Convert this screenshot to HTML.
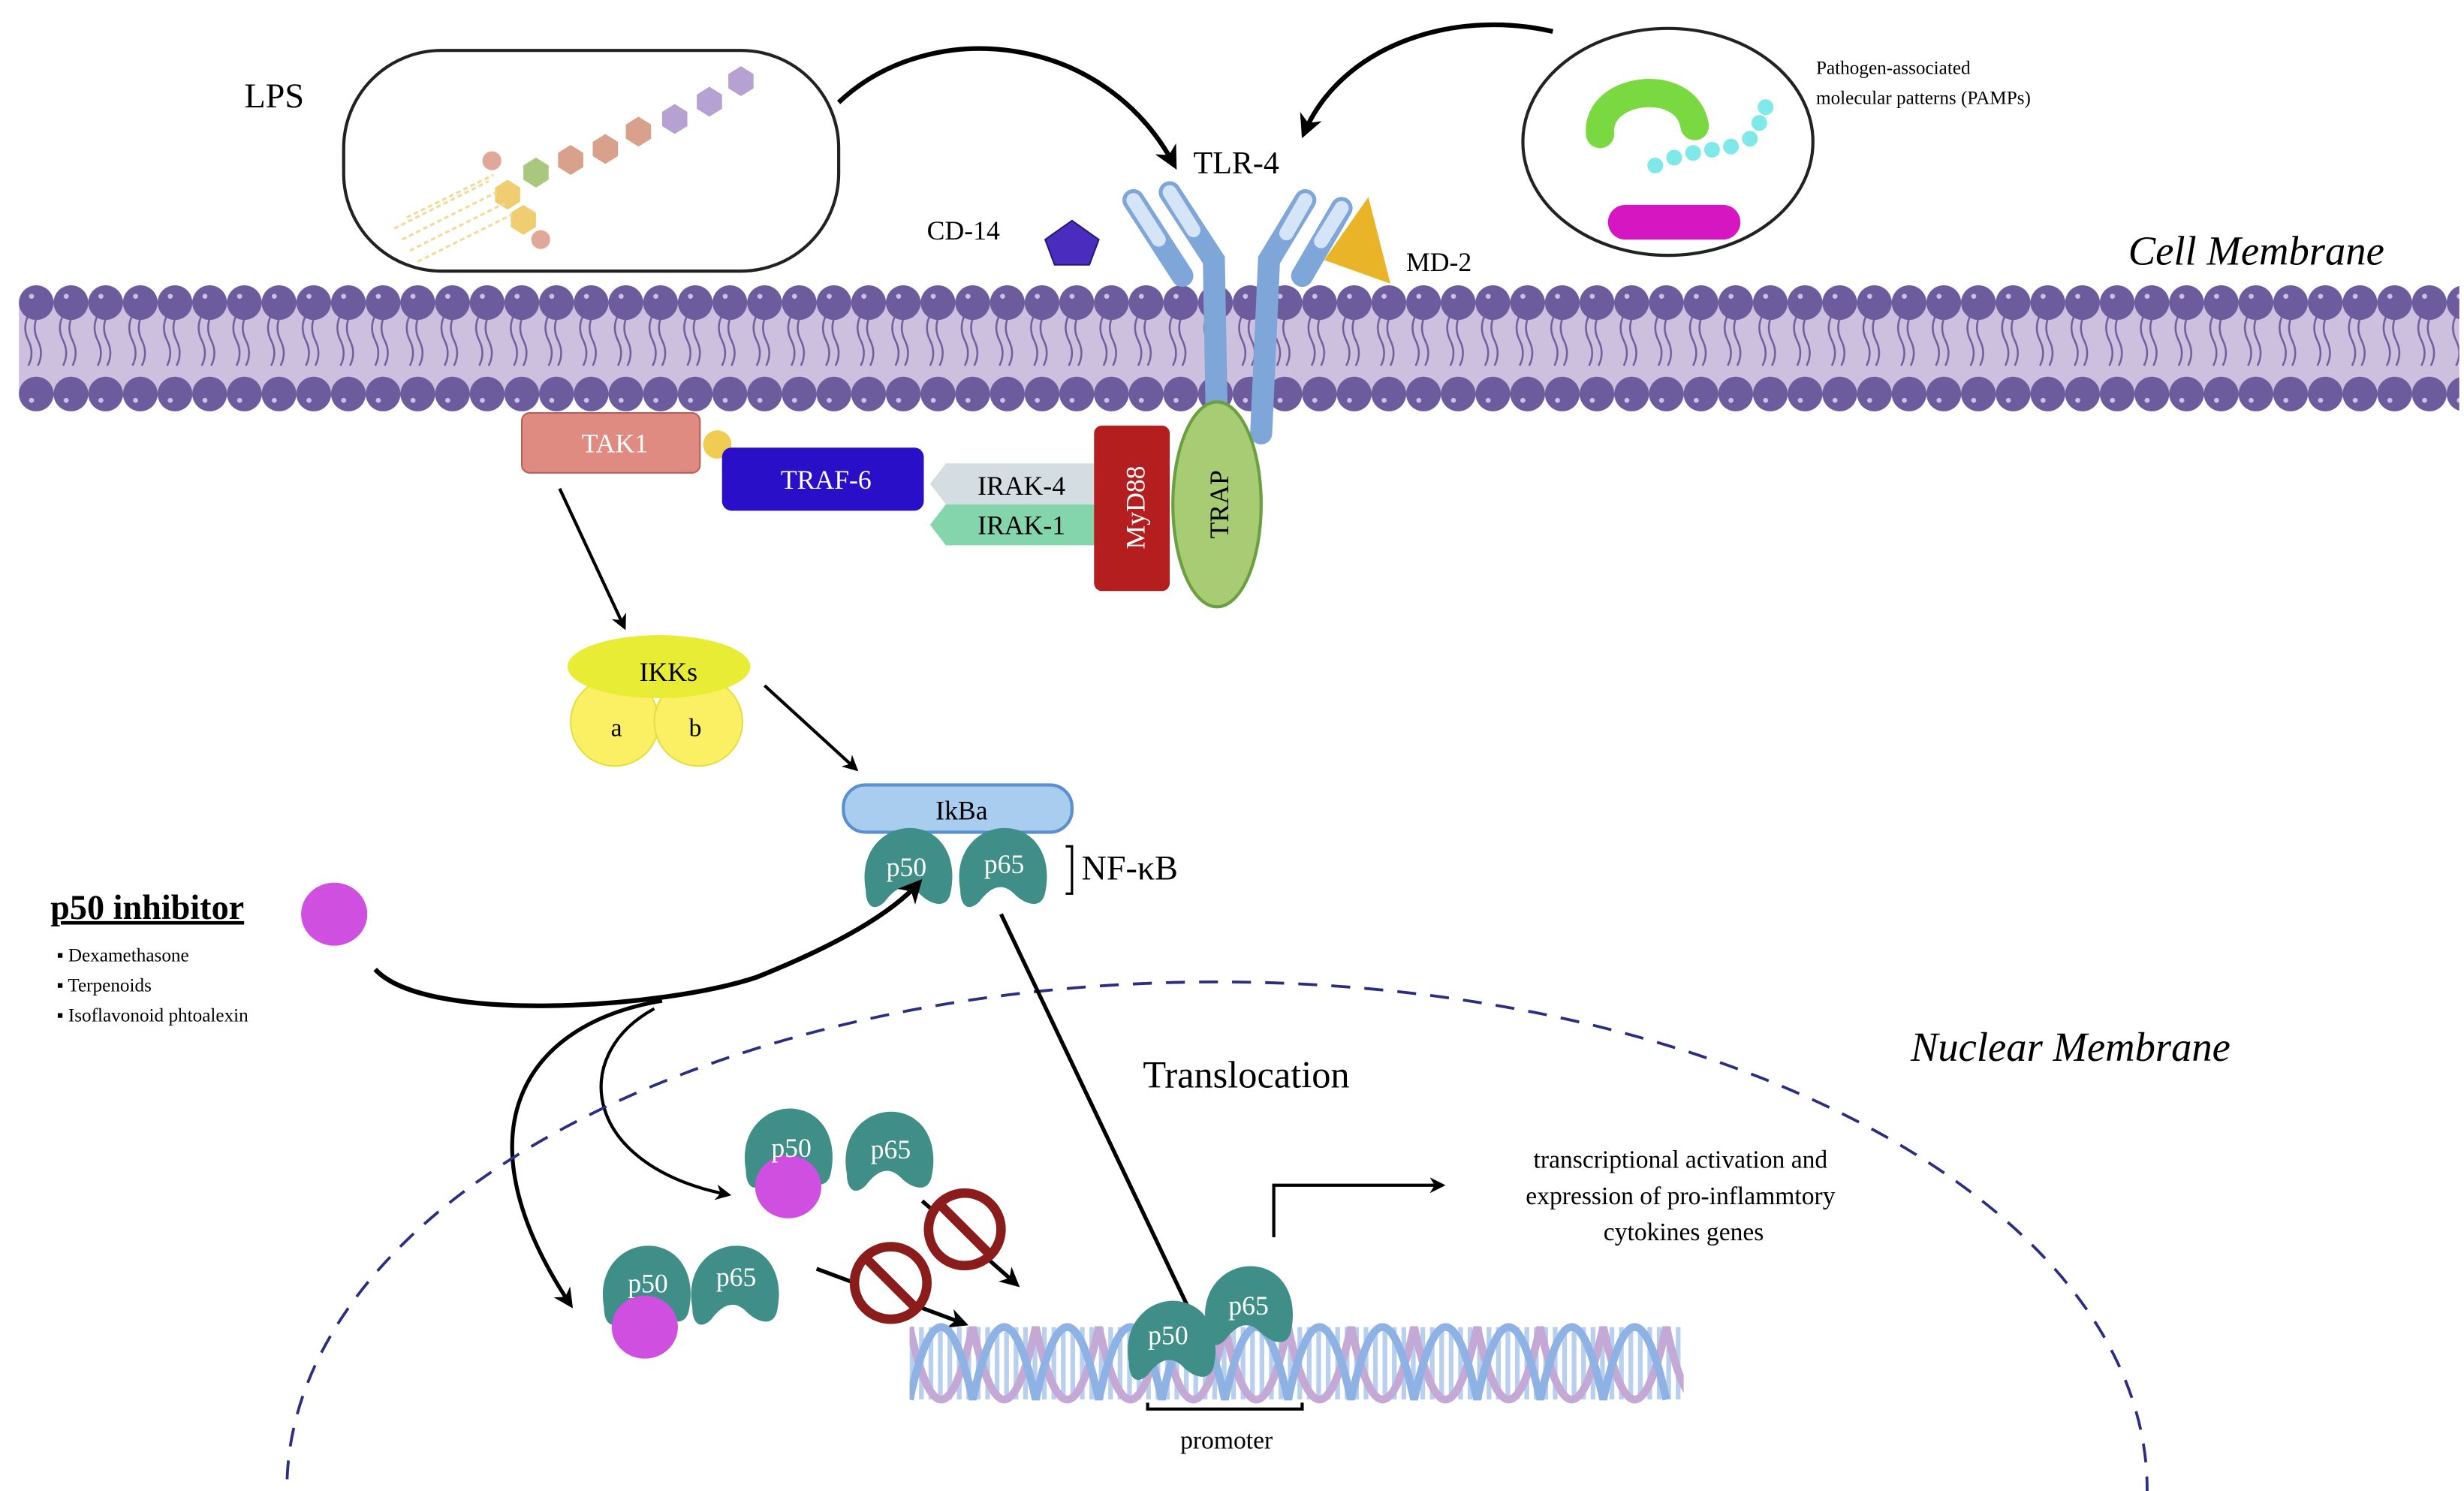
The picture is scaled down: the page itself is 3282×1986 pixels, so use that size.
<!DOCTYPE html>
<html><head><meta charset="utf-8"><style>
html,body{margin:0;padding:0;background:#fff;overflow:hidden;width:3282px;height:1986px}
svg{display:block}
text{font-family:"Liberation Serif",serif}
</style></head><body>
<svg width="3282" height="1986" viewBox="0 0 1563 946" preserveAspectRatio="none" xmlns="http://www.w3.org/2000/svg">
<defs>
<pattern id="heads" x="12" y="0" width="22" height="946" patternUnits="userSpaceOnUse">
<path d="M6,200 q-4,8 0,16 q4,8 0,16 M12,200 q-4,8 0,16 q4,8 0,16" fill="none" stroke="#6e5f9c" stroke-width="1.2"/>
<circle cx="11" cy="192" r="11" fill="#6c5c9e"/>
<circle cx="11" cy="250" r="11" fill="#6c5c9e"/>
<circle cx="8" cy="188" r="1.6" fill="#cbbfe6"/>
<circle cx="8" cy="254" r="1.6" fill="#cbbfe6"/>
</pattern>
<pattern id="rungs" x="577" y="0" width="6" height="946" patternUnits="userSpaceOnUse">
<rect x="0" y="842" width="3" height="46" fill="#b9cfee"/>
<rect x="3" y="842" width="3" height="46" fill="#fff"/>
</pattern>
<clipPath id="dnaclip"><rect x="577" y="835" width="491" height="60"/></clipPath>
<marker id="ah" viewBox="0 0 10 10" refX="8" refY="5" markerWidth="5" markerHeight="5" orient="auto"><path d="M0,0 L10,5 L0,10 L3,5Z" fill="#000"/></marker>
<g id="prot"><path d="M-22,12 C-26,-10 -10,-22 4,-20 C18,-18 26,-4 22,14 C20,22 12,20 6,14 C0,8 -6,10 -12,18 C-18,24 -22,20 -22,12Z" fill="#3f8f88" transform="scale(1.22)"/></g>
</defs>

<!-- membrane -->
<rect x="12" y="190" width="1548" height="62" fill="#cdbfde"/>
<rect x="12" y="176" width="1548" height="90" fill="url(#heads)"/>
<text x="1350" y="168" font-size="26" font-style="italic">Cell Membrane</text>

<!-- LPS box -->
<rect x="218" y="32" width="314" height="140" rx="62" fill="#fff" stroke="#222" stroke-width="2"/>
<text x="155" y="68" font-size="22">LPS</text>
<g stroke="none">
<polygon points="470,42 478,47 478,56 470,61 462,56 462,47" fill="#b5a2d2"/>
<polygon points="450,55 458,60 458,69 450,74 442,69 442,60" fill="#b5a2d2"/>
<polygon points="428,66 436,71 436,80 428,85 420,80 420,71" fill="#b5a2d2"/>
<polygon points="405,74 413,79 413,88 405,93 397,88 397,79" fill="#d9a08c"/>
<polygon points="384,85 392,90 392,99 384,104 376,99 376,90" fill="#d9a08c"/>
<polygon points="362,92 370,97 370,106 362,111 354,106 354,97" fill="#d9a08c"/>
<polygon points="340,100 348,105 348,114 340,119 332,114 332,105" fill="#a9c77f"/>
<polygon points="322,114 330,119 330,128 322,133 314,128 314,119" fill="#f0cd70"/>
<polygon points="332,130 340,135 340,144 332,149 324,144 324,135" fill="#f0cd70"/>
<circle cx="312" cy="102" r="6" fill="#e0a898"/><circle cx="343" cy="152" r="6" fill="#e0a898"/>
<path d="M250,145 l60,-30 M255,152 l60,-30 M260,159 l60,-30 M265,166 l60,-30 M258,138 l55,-27" stroke="#f2dc9a" stroke-width="1.5" stroke-dasharray="3,2"/>
</g>

<!-- PAMP circle -->
<ellipse cx="1058" cy="90" rx="92" ry="72" fill="#fff" stroke="#222" stroke-width="2"/>
<path d="M1015,85 C1012,55 1070,48 1075,80" fill="none" stroke="#7ad840" stroke-width="18" stroke-linecap="round"/>
<g fill="#7fe8e8"><circle cx="1050" cy="105" r="5"/><circle cx="1062" cy="100" r="5"/><circle cx="1074" cy="97" r="5"/><circle cx="1086" cy="95" r="5"/><circle cx="1098" cy="93" r="5"/><circle cx="1110" cy="88" r="5"/><circle cx="1116" cy="78" r="5"/><circle cx="1120" cy="68" r="5"/></g>
<rect x="1020" y="130" width="84" height="22" rx="11" fill="#d616c0"/>
<text x="1152" y="47" font-size="12">Pathogen-associated</text>
<text x="1152" y="66" font-size="12">molecular patterns (PAMPs)</text>

<!-- arrows top -->
<path d="M532,65 C590,10 700,20 745,105" fill="none" stroke="#000" stroke-width="3" marker-end="url(#ah)"/>
<path d="M985,20 C920,5 850,30 827,85" fill="none" stroke="#000" stroke-width="3" marker-end="url(#ah)"/>

<!-- TLR-4 -->
<text x="757" y="110" font-size="20">TLR-4</text>
<g fill="none" stroke-linecap="round">
<path d="M719,127 L750,175" stroke="#7fa6d8" stroke-width="14"/>
<path d="M719,127 L735,152" stroke="#d5e4f6" stroke-width="9"/>
<path d="M742,122 L770,165 L772,275" stroke="#7fa6d8" stroke-width="14"/>
<path d="M742,122 L757,146" stroke="#d5e4f6" stroke-width="9"/>
<path d="M828,127 L805,165 L800,275" stroke="#7fa6d8" stroke-width="14"/>
<path d="M828,127 L816,148" stroke="#d5e4f6" stroke-width="9"/>
<path d="M851,132 L826,175" stroke="#7fa6d8" stroke-width="14"/>
<path d="M851,132 L838,153" stroke="#d5e4f6" stroke-width="9"/>
</g>
<polygon points="680,140 697,152 691,168 669,168 663,152" fill="#4a2dbf" stroke="#2a1a70"/>
<text x="588" y="152" font-size="17">CD-14</text>
<polygon points="868,125 882,180 840,165" fill="#e9b428"/>
<text x="892" y="172" font-size="17">MD-2</text>

<!-- adaptor complex -->
<rect x="331" y="262" width="113" height="38" rx="5" fill="#e08b82" stroke="#b86058"/>
<text x="390" y="287" font-size="17" fill="#fff" text-anchor="middle">TAK1</text>
<circle cx="455" cy="282" r="9" fill="#f0cc50"/>
<rect x="458" y="284" width="128" height="40" rx="6" fill="#2a0fc8"/>
<text x="524" y="310" font-size="17" fill="#fff" text-anchor="middle">TRAF-6</text>
<polygon points="600,294 696,294 696,320 600,320 590,307" fill="#d4dde2"/>
<polygon points="600,320 696,320 696,346 600,346 590,333" fill="#84d4ac"/>
<text x="648" y="314" font-size="17" text-anchor="middle">IRAK-4</text>
<text x="648" y="339" font-size="17" text-anchor="middle">IRAK-1</text>
<rect x="694" y="270" width="48" height="105" rx="5" fill="#b41e1e"/>
<text transform="translate(726,322) rotate(-90)" font-size="17" fill="#fff" text-anchor="middle">MyD88</text>
<ellipse cx="772" cy="320" rx="28" ry="65" fill="#a8cc74" stroke="#6aa040" stroke-width="2"/>
<text transform="translate(779,320) rotate(-90)" font-size="17" text-anchor="middle">TRAP</text>

<!-- TAK1 -> IKKs -->
<line x1="355" y1="310" x2="396" y2="398" stroke="#000" stroke-width="2" marker-end="url(#ah)"/>
<circle cx="390" cy="458" r="28" fill="#fbf064" stroke="#e2e040"/>
<circle cx="443" cy="458" r="28" fill="#fbf064" stroke="#e2e040"/>
<ellipse cx="418" cy="423" rx="58" ry="20" fill="#e8ec34"/>
<text x="424" y="432" font-size="17" text-anchor="middle">IKKs</text>
<text x="391" y="467" font-size="16" text-anchor="middle">a</text>
<text x="441" y="467" font-size="16" text-anchor="middle">b</text>
<line x1="485" y1="435" x2="543" y2="488" stroke="#000" stroke-width="2" marker-end="url(#ah)"/>

<!-- IkBa / NF-kB -->
<rect x="535" y="498" width="145" height="30" rx="14" fill="#a9cdee" stroke="#5a8fd0" stroke-width="2"/>
<text x="610" y="520" font-size="17" text-anchor="middle">IkBa</text>
<use href="#prot" transform="translate(576,550)"/>
<use href="#prot" transform="translate(636,550)"/>
<text x="575" y="556" font-size="17" fill="#fff" text-anchor="middle">p50</text>
<text x="637" y="554" font-size="17" fill="#fff" text-anchor="middle">p65</text>
<path d="M676,537 h4 v30 h-4" fill="none" stroke="#000" stroke-width="1.5"/>
<text x="686" y="558" font-size="22">NF-κB</text>

<!-- p50 inhibitor -->
<text x="32" y="583" font-size="22" font-weight="bold" text-decoration="underline">p50 inhibitor</text>
<ellipse cx="212" cy="580" rx="21" ry="20" fill="#cf4fe0"/>
<g font-family="Liberation Sans,sans-serif" font-size="12">
<text x="36" y="610">▪ Dexamethasone</text>
<text x="36" y="629">▪ Terpenoids</text>
<text x="36" y="648">▪ Isoflavonoid phtoalexin</text>
</g>
<path d="M238,615 C270,650 420,640 480,620 C530,600 565,580 583,560" fill="none" stroke="#000" stroke-width="3" marker-end="url(#ah)"/>
<path d="M420,635 C330,650 290,720 362,828" fill="none" stroke="#000" stroke-width="2.5" marker-end="url(#ah)"/>
<path d="M415,640 C360,670 370,740 462,758" fill="none" stroke="#000" stroke-width="2" marker-end="url(#ah)"/>

<!-- nucleus -->
<ellipse cx="772" cy="945" rx="590" ry="322" fill="none" stroke="#2a2d80" stroke-width="1.8" stroke-dasharray="12,9"/>
<text x="1212" y="673" font-size="26" font-style="italic">Nuclear Membrane</text>
<text x="725" y="690" font-size="24">Translocation</text>
<line x1="635" y1="580" x2="772" y2="868" stroke="#000" stroke-width="2.5" marker-end="url(#ah)"/>

<!-- inhibited complexes -->
<use href="#prot" transform="translate(500,728)"/>
<use href="#prot" transform="translate(564,730)"/>
<ellipse cx="500" cy="753" rx="21" ry="20" fill="#cf4fe0"/>
<text x="502" y="734" font-size="17" fill="#fff" text-anchor="middle">p50</text>
<text x="565" y="735" font-size="17" fill="#fff" text-anchor="middle">p65</text>
<use href="#prot" transform="translate(410,815)"/>
<use href="#prot" transform="translate(466,815)"/>
<ellipse cx="409" cy="842" rx="21" ry="20" fill="#cf4fe0"/>
<text x="411" y="820" font-size="17" fill="#fff" text-anchor="middle">p50</text>
<text x="467" y="816" font-size="17" fill="#fff" text-anchor="middle">p65</text>
<line x1="585" y1="762" x2="645" y2="815" stroke="#000" stroke-width="2.5" marker-end="url(#ah)"/>
<line x1="518" y1="805" x2="612" y2="840" stroke="#000" stroke-width="2.5" marker-end="url(#ah)"/>
<g fill="#fff" stroke="#8a1c1c" stroke-width="6">
<circle cx="612" cy="780" r="23"/><line x1="596" y1="764" x2="628" y2="796"/>
<circle cx="565" cy="814" r="23"/><line x1="549" y1="798" x2="581" y2="830"/>
</g>

<!-- DNA -->
<g clip-path="url(#dnaclip)">
<rect x="577" y="842" width="491" height="46" fill="url(#rungs)"/>
<path d="M577,842 q10,46 20,46 q10,0 20,-46 q10,46 20,46 q10,0 20,-46 q10,46 20,46 q10,0 20,-46 q10,46 20,46 q10,0 20,-46 q10,46 20,46 q10,0 20,-46 q10,46 20,46 q10,0 20,-46 q10,46 20,46 q10,0 20,-46 q10,46 20,46 q10,0 20,-46 q10,46 20,46 q10,0 20,-46 q10,46 20,46 q10,0 20,-46 q10,46 20,46 q10,0 20,-46 q10,46 20,46 q10,0 20,-46 q10,46 20,46 q10,0 20,-46" fill="none" stroke="#c4a8d6" stroke-width="5"/>
<path d="M577,888 q10,-46 20,-46 q10,0 20,46 q10,-46 20,-46 q10,0 20,46 q10,-46 20,-46 q10,0 20,46 q10,-46 20,-46 q10,0 20,46 q10,-46 20,-46 q10,0 20,46 q10,-46 20,-46 q10,0 20,46 q10,-46 20,-46 q10,0 20,46 q10,-46 20,-46 q10,0 20,46 q10,-46 20,-46 q10,0 20,46 q10,-46 20,-46 q10,0 20,46 q10,-46 20,-46 q10,0 20,46 q10,-46 20,-46 q10,0 20,46" fill="none" stroke="#8fb2e4" stroke-width="5"/>
</g>
<use href="#prot" transform="translate(792,828)"/>
<use href="#prot" transform="translate(743,850)"/>
<text x="741" y="853" font-size="17" fill="#fff" text-anchor="middle">p50</text>
<text x="792" y="834" font-size="17" fill="#fff" text-anchor="middle">p65</text>
<path d="M728,890 v4 h98 v-4" fill="none" stroke="#000" stroke-width="2"/>
<text x="778" y="919" font-size="16" text-anchor="middle">promoter</text>

<!-- transcription -->
<path d="M808,785 V752 H915" fill="none" stroke="#000" stroke-width="2" marker-end="url(#ah)"/>
<g font-size="16" text-anchor="middle">
<text x="1066" y="741">transcriptional activation and</text>
<text x="1066" y="764">expression of pro-inflammtory</text>
<text x="1068" y="787">cytokines genes</text>
</g>
</svg>
</body></html>
